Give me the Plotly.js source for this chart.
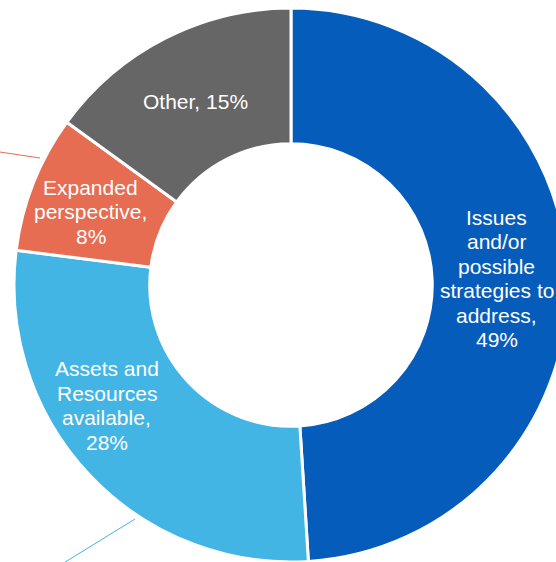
<!DOCTYPE html>
<html>
<head>
<meta charset="utf-8">
<script src="https://cdn.plot.ly/plotly-3.0.1.min.js"></script>
<style>
html, body { margin: 0; padding: 0; overflow: hidden; background: #fff; }
#chart { width: 600px; height: 562px; }
</style>
</head>
<body>
<div id="chart"></div>
<script>
// Data
const categories = ["Issues and/or possible strategies to address", "Assets and Resources available", "Expanded perspective", "Other"];
const values = [49, 28, 8, 15];
const labelLines = [
  ["Issues", "and/or", "possible", "strategies to", "address,", "49%"],
  ["Assets and", "Resources", "available,", "28%"],
  ["Expanded", "perspective,", "8%"],
  ["Other, 15%"]
];
const colors = ["#065CBA", "#42B5E5", "#E66C52", "#666666"];

const W = 600, H = 562;
// pie geometry in pixels
const cx = 291, cy = 285, R = 277;
const hole = 0.51;

// label placement: radius and angular nudge per slice
const labelRadius = [206, 220, 213, 207];
const labelAngleNudge = [0, 10, -1.5, -0.5];
const fontSize = 21;
const lineH = 24.5;

const total = values.reduce((a, b) => a + b, 0);
let cum = 0;
const annotations = [];
values.forEach((v, i) => {
  const mid = (cum + v / 2) / total * 360 + labelAngleNudge[i];
  cum += v;
  const a = mid * Math.PI / 180;
  const px = cx + labelRadius[i] * Math.sin(a);
  const py = cy - labelRadius[i] * Math.cos(a);
  const lines = labelLines[i];
  const n = lines.length;
  lines.forEach((t, k) => {
    const ly = py + (k - (n - 1) / 2) * lineH;
    annotations.push({
      x: px / W, y: 1 - ly / H, xref: 'paper', yref: 'paper',
      text: t, showarrow: false,
      font: { family: 'Liberation Sans, Arial, sans-serif', size: fontSize, color: '#ffffff' },
      xanchor: 'center', yanchor: 'middle', align: 'center'
    });
  });
});

const trace = {
  type: 'pie',
  labels: categories,
  values: values,
  hole: hole,
  sort: false,
  direction: 'clockwise',
  rotation: 0,
  textinfo: 'none',
  hoverinfo: 'label+percent',
  marker: { colors: colors, line: { color: '#ffffff', width: 3 } },
  domain: { x: [(cx - R) / W, (cx + R) / W], y: [1 - (cy + R) / H, 1 - (cy - R) / H] },
  showlegend: false
};

const shapes = [
  { type: 'line', xref: 'paper', yref: 'paper', x0: 0 / W, y0: 1 - 152 / H, x1: 40 / W, y1: 1 - 158 / H, line: { color: '#E66C52', width: 1 } },
  { type: 'line', xref: 'paper', yref: 'paper', x0: 135 / W, y0: 1 - 519 / H, x1: 62 / W, y1: 1 - 564 / H, line: { color: '#42B5E5', width: 1 } }
];

const layout = {
  width: W, height: H,
  margin: { l: 0, r: 0, t: 0, b: 0, pad: 0 },
  paper_bgcolor: '#ffffff',
  showlegend: false,
  annotations: annotations,
  shapes: shapes
};

Plotly.newPlot('chart', [trace], layout, { displayModeBar: false, staticPlot: true });
</script>
</body>
</html>
